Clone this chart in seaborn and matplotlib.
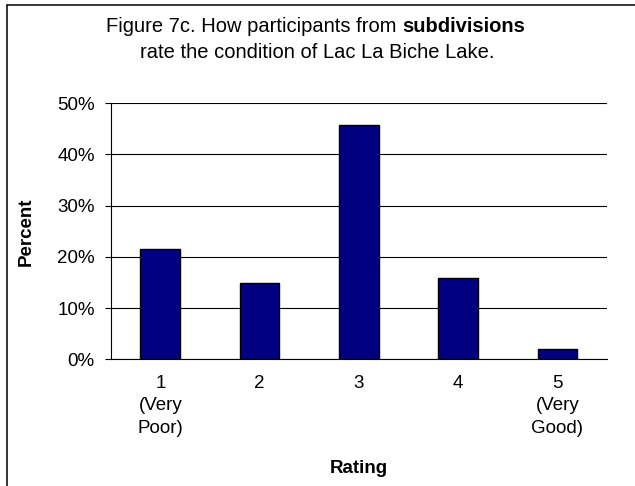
import matplotlib
matplotlib.use("Agg")
import matplotlib.pyplot as plt
import seaborn as sns
import pandas as pd
from matplotlib.lines import Line2D

# data
ratings = ["1\n(Very\nPoor)", "2", "3", "4", "5\n(Very\nGood)"]
percents = [21.5, 14.9, 45.8, 15.9, 2.0]

df = pd.DataFrame({"Rating": ratings, "Percent": percents})

sns.set_style("white")
plt.rcParams["font.family"] = ["Liberation Sans", "DejaVu Sans"]
plt.rcParams["text.color"] = "black"
plt.rcParams["axes.labelcolor"] = "black"
plt.rcParams["xtick.color"] = "black"
plt.rcParams["ytick.color"] = "black"

fig = plt.figure(figsize=(6.35, 4.86), dpi=100)
W, H = 635, 486
ax = fig.add_axes([110.7 / W, 1 - 359.3 / H, (607 - 110.7) / W, (359.3 - 103.3) / H])

sns.barplot(data=df, x="Rating", y="Percent", color="#000080", width=0.4,
            edgecolor="black", linewidth=1, saturation=1, ax=ax, zorder=3)

ax.set_ylim(0, 50)
ax.set_xlim(-0.5, 4.5)
ax.set_yticks(range(0, 51, 10))
ax.set_yticklabels([f"{v}%" for v in range(0, 51, 10)], fontsize=13.5)
ax.yaxis.grid(True, color="black", linewidth=0.8, zorder=0)
ax.set_axisbelow(True)
for s in ["top", "right"]:
    ax.spines[s].set_visible(False)
for s in ["left", "bottom"]:
    ax.spines[s].set_color("black")
    ax.spines[s].set_linewidth(0.8)

# x ticks at category boundaries, labels centered
ax.set_xticks([i - 0.5 for i in range(6)], minor=False)
ax.set_xticklabels([])
ax.set_xticks(range(5), minor=True)
ax.set_xticklabels(ratings, minor=True, fontsize=13.5, linespacing=1.45)
ax.tick_params(axis="x", which="minor", length=0, pad=11)
ax.tick_params(axis="x", which="major", direction="out", length=5, width=0.8, color="black")
ax.tick_params(axis="y", direction="out", length=4.5, width=0.8, color="black", left=True, pad=7)
ax.set_xlabel("Rating", fontsize=13.5, fontweight="bold", labelpad=16)
ax.set_ylabel("Percent", fontsize=13.5, fontweight="bold", labelpad=16)

# title with bold word
fs_title = 14.5
fig.canvas.draw()
r = fig.canvas.get_renderer()
t1 = fig.text(0, 1 - 27 / H, "Figure 7c. How participants from ", fontsize=fs_title, va="center")
t2 = fig.text(0, 1 - 27 / H, "subdivisions", fontsize=fs_title, fontweight="bold", va="center")
w1 = t1.get_window_extent(r).width
w2 = t2.get_window_extent(r).width
x0 = 316 - (w1 + w2) / 2
t1.set_x(x0 / W)
t2.set_x((x0 + w1) / W)
fig.text(317.5 / W, 1 - 52 / H, "rate the condition of Lac La Biche Lake.", fontsize=fs_title,
         va="center", ha="center")

# frame: only top and left edges show in the reference
fig.add_artist(Line2D([7 / W, 7 / W], [0, 1 - 5 / H], color="black", linewidth=1.1,
                      transform=fig.transFigure))
fig.add_artist(Line2D([7 / W, 1], [1 - 5 / H, 1 - 5 / H], color="black", linewidth=1.1,
                      transform=fig.transFigure))

fig.savefig("out.png", dpi=100)
